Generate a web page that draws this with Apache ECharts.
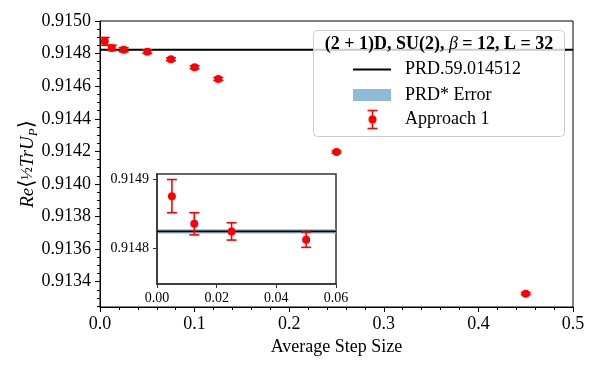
<!DOCTYPE html>
<html>
<head>
<meta charset="utf-8">
<script src="https://cdn.jsdelivr.net/npm/echarts@6/dist/echarts.min.js"></script>
<style>
  html, body { margin: 0; padding: 0; background: #fff; }
  #chart { width: 600px; height: 370px; }
</style>
</head>
<body>
<div id="chart"></div>
<script>
// Average step size vs plaquette expectation value (Approach 1)
const stepSize = [0.005, 0.0125, 0.025, 0.05, 0.075, 0.1, 0.125, 0.25, 0.45];
const plaquette = [0.914875, 0.914835, 0.914824, 0.914812, 0.914765, 0.914716, 0.914644, 0.914196, 0.913327];
const plaquetteErr = [0.000024, 0.000016, 0.0000125, 0.000011, 0.000009, 0.000009, 0.000009, 0.000007, 0.000007];

// reference value PRD.59.014512 and its error
const prdValue = 0.914824;
const prdErr = 0.000003;

// tick values
const xTicks = [0, 0.1, 0.2, 0.3, 0.4, 0.5];
const yTicks = [0.9134, 0.9136, 0.9138, 0.914, 0.9142, 0.9144, 0.9146, 0.9148, 0.915];
const insetXTicks = [0, 0.02, 0.04, 0.06];
const insetYTicks = [0.9148, 0.9149];

const FONT = '"Liberation Serif", "DejaVu Serif", serif';
const RED = '#ff0000';

// minor ticks: 4 subdivisions between major y ticks
const yMinor = [];
for (let i = 0; i < yTicks.length; i++) {
  for (let k = -3; k <= 3; k++) {
    const v = +(yTicks[i] + k * 0.00005).toFixed(6);
    if (v >= 0.913245 && v <= 0.915 && yMinor.indexOf(v) < 0) yMinor.push(v);
  }
}

const mainData = stepSize.map((x, i) => [x, plaquette[i], plaquetteErr[i]]);
const insetData = mainData.filter(d => d[0] <= 0.06);

function renderErr(params, api) {
  const x = api.value(0), y = api.value(1), e = api.value(2);
  const top = api.coord([x, y + e]);
  const bot = api.coord([x, y - e]);
  const hw = 5;
  const style = { stroke: RED, lineWidth: 1.6, fill: null };
  return {
    type: 'group',
    children: [
      { type: 'line', shape: { x1: top[0], y1: top[1], x2: bot[0], y2: bot[1] }, style },
      { type: 'line', shape: { x1: top[0] - hw, y1: top[1], x2: top[0] + hw, y2: top[1] }, style },
      { type: 'line', shape: { x1: bot[0] - hw, y1: bot[1], x2: bot[0] + hw, y2: bot[1] }, style }
    ]
  };
}

const chart = echarts.init(document.getElementById('chart'));

const option = {
  animation: false,
  textStyle: { fontFamily: FONT },
  grid: [
    { left: 100, top: 21, right: 27, bottom: 63, show: true, borderColor: '#000', borderWidth: 1, backgroundColor: 'transparent' },
    { left: 157, top: 174, width: 179, height: 110, show: true, borderColor: '#333', borderWidth: 1.5, backgroundColor: '#fff', z: 5 }
  ],
  xAxis: [
    {
      type: 'value', gridIndex: 0, min: 0, max: 0.5, interval: 0.1,
      name: 'Average Step Size', nameLocation: 'middle', nameGap: 30,
      nameTextStyle: { fontSize: 18, color: '#000', fontFamily: FONT },
      axisLine: { lineStyle: { color: '#000', width: 1 } },
      axisTick: { length: 5, lineStyle: { color: '#000' } },
      minorTick: { show: true, splitNumber: 5, length: 3, lineStyle: { color: '#000' } },
      axisLabel: { fontSize: 18, color: '#000', margin: 8, formatter: v => v.toFixed(1) },
      splitLine: { show: false }
    },
    {
      type: 'value', gridIndex: 1, min: 0, max: 0.06, interval: 0.02, z: 6,
      axisLine: { lineStyle: { color: '#333', width: 1.5 } },
      axisTick: { length: 4, lineStyle: { color: '#333' } },
      axisLabel: { fontSize: 14, color: '#000', margin: 7, formatter: v => v.toFixed(2) },
      splitLine: { show: false }
    }
  ],
  yAxis: [
    {
      type: 'value', gridIndex: 0, position: 'left', min: 0.913245, max: 0.915,
      axisLine: { show: true, lineStyle: { color: '#000', width: 1 } },
      axisTick: { show: true, length: 3, customValues: yMinor, lineStyle: { color: '#000' } },
      axisLabel: { show: false },
      splitLine: { show: false }
    },
    {
      type: 'value', gridIndex: 0, position: 'left', min: 0.913245, max: 0.915,
      name: '{it|Re}{br|⟨}{fr|½}{it|TrU}{sub|P}{br|⟩}', nameLocation: 'middle', nameGap: 60, nameRotate: 90,
      nameMoveOverlap: false,
      nameTextStyle: {
        color: '#000', fontFamily: FONT,
        rich: {
          it: { fontSize: 19, fontStyle: 'italic', fontFamily: FONT, lineHeight: 24 },
          br: { fontSize: 21, fontFamily: '"DejaVu Serif", serif', lineHeight: 24 },
          fr: { fontSize: 17, fontFamily: FONT, lineHeight: 24 },
          sub: { fontSize: 13, fontStyle: 'italic', fontFamily: FONT, verticalAlign: 'bottom', lineHeight: 15 }
        }
      },
      axisLine: { show: false },
      axisTick: { show: true, length: 5, customValues: yTicks, lineStyle: { color: '#000' } },
      axisLabel: { fontSize: 18, color: '#000', margin: 9, customValues: yTicks, formatter: v => v.toFixed(4) },
      splitLine: { show: false }
    },
    {
      type: 'value', gridIndex: 1, min: 0.914748, max: 0.914907, z: 6,
      axisLine: { show: true, lineStyle: { color: '#333', width: 1.5 } },
      axisTick: { show: true, length: 4, customValues: insetYTicks, lineStyle: { color: '#333' } },
      axisLabel: { fontSize: 14, color: '#000', margin: 8, customValues: insetYTicks, formatter: v => v.toFixed(4) },
      splitLine: { show: false }
    }
  ],
  series: [
    {
      name: 'PRD.59.014512', type: 'line', xAxisIndex: 0, yAxisIndex: 0,
      data: [[0, prdValue], [0.5, prdValue]], symbol: 'none', z: 2,
      lineStyle: { color: '#000', width: 2 },
      markArea: { silent: true, itemStyle: { color: '#8fbbd9', opacity: 1 }, data: [[{ yAxis: prdValue - prdErr }, { yAxis: prdValue + prdErr }]] }
    },
    {
      name: 'Approach 1 err', type: 'custom', xAxisIndex: 0, yAxisIndex: 0,
      renderItem: renderErr, data: mainData, encode: { x: 0, y: 1 }, z: 3
    },
    {
      name: 'Approach 1', type: 'scatter', xAxisIndex: 0, yAxisIndex: 0,
      data: mainData, symbolSize: 8, itemStyle: { color: RED, opacity: 1 }, z: 4
    },
    {
      name: 'PRD inset band', type: 'custom', xAxisIndex: 1, yAxisIndex: 2, z: 6,
      data: [[0, 0.06, prdValue - prdErr, prdValue + prdErr]],
      encode: { x: [0, 1], y: [2, 3] },
      renderItem: (params, api) => {
        const a = api.coord([api.value(0), api.value(3)]);
        const b = api.coord([api.value(1), api.value(2)]);
        return { type: 'rect', shape: { x: a[0], y: a[1], width: b[0] - a[0], height: b[1] - a[1] }, style: { fill: '#8fbbd9' } };
      }
    },
    {
      name: 'PRD inset', type: 'line', xAxisIndex: 1, yAxisIndex: 2,
      data: [[0, prdValue], [0.06, prdValue]], symbol: 'none', z: 7,
      lineStyle: { color: '#000', width: 1.8 }
    },
    {
      name: 'inset err', type: 'custom', xAxisIndex: 1, yAxisIndex: 2,
      renderItem: renderErr, data: insetData, encode: { x: 0, y: 1 }, z: 8
    },
    {
      name: 'inset pts', type: 'scatter', xAxisIndex: 1, yAxisIndex: 2,
      data: insetData, symbolSize: 8, itemStyle: { color: RED, opacity: 1 }, z: 9
    }
  ],
  graphic: [
    // legend box
    { type: 'rect', z: 20, shape: { x: 313.5, y: 30.5, width: 251, height: 106, r: 4 },
      style: { fill: 'rgba(255,255,255,0.8)', stroke: '#cccccc', lineWidth: 1 } },
    { type: 'text', z: 21, x: 439, y: 44,
      style: {
        text: '{b|(2 + 1)D, SU(2), }{g|β}{b| = 12, L = 32}',
        align: 'center', verticalAlign: 'middle',
        rich: {
          b: { fontSize: 18, fontWeight: 'bold', fontFamily: FONT, fill: '#000' },
          g: { fontSize: 18, fontStyle: 'italic', fontFamily: FONT, fill: '#000' }
        }
      } },
    { type: 'line', z: 21, shape: { x1: 353, y1: 69.5, x2: 391, y2: 69.5 }, style: { stroke: '#000', lineWidth: 2 } },
    { type: 'rect', z: 21, shape: { x: 353, y: 89, width: 38, height: 12 }, style: { fill: '#8fbbd9' } },
    { type: 'line', z: 21, shape: { x1: 372.5, y1: 110.5, x2: 372.5, y2: 128.5 }, style: { stroke: RED, lineWidth: 1.6 } },
    { type: 'line', z: 21, shape: { x1: 367.5, y1: 110.5, x2: 377.5, y2: 110.5 }, style: { stroke: RED, lineWidth: 1.6 } },
    { type: 'line', z: 21, shape: { x1: 367.5, y1: 128.5, x2: 377.5, y2: 128.5 }, style: { stroke: RED, lineWidth: 1.6 } },
    { type: 'circle', z: 21, shape: { cx: 372.5, cy: 119.5, r: 4 }, style: { fill: RED } },
    { type: 'text', z: 21, x: 405, y: 69.5, style: { text: 'PRD.59.014512', fontSize: 18, fontFamily: FONT, fill: '#000', verticalAlign: 'middle' } },
    { type: 'text', z: 21, x: 405, y: 95.5, style: { text: 'PRD* Error', fontSize: 18, fontFamily: FONT, fill: '#000', verticalAlign: 'middle' } },
    { type: 'text', z: 21, x: 405, y: 119.5, style: { text: 'Approach 1', fontSize: 18, fontFamily: FONT, fill: '#000', verticalAlign: 'middle' } }
  ]
};

chart.setOption(option);
</script>
</body>
</html>
